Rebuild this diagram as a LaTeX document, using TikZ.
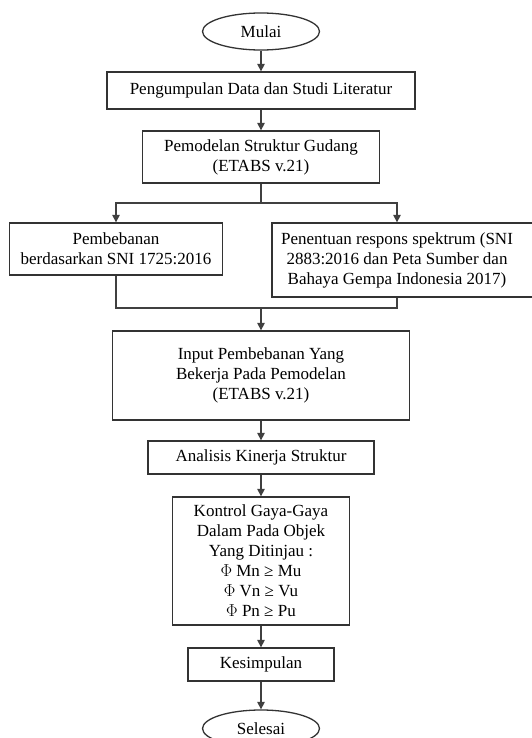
\documentclass[tikz,border=0pt]{standalone}
\usepackage{fontspec}
\setmainfont{Liberation Serif}
\usetikzlibrary{shapes.geometric,arrows.meta,calc}
\begin{document}
\begin{tikzpicture}[x=1pt,y=-1pt,
  every node/.style={font=\fontsize{17}{20}\selectfont, inner sep=0pt, align=center},
  procbox/.style={draw=black!80, line width=1.3pt, rectangle},
  term/.style={draw=black!80, line width=1.3pt, ellipse},
  line/.style={draw=black!75, line width=1.2pt},
  arr/.style={line, -{Triangle[width=7.5pt,length=7.5pt]}}]
\useasboundingbox (0,0) rectangle (532,738);
\begin{scope}
\clip (0,0) rectangle (532,738);
\node[term, minimum width=117pt, minimum height=37pt] (mulai) at (261,31.5) {Mulai};
\node[procbox, minimum width=308pt, minimum height=37pt] (b1) at (261,90.5) {Pengumpulan Data dan Studi Literatur};
\node[procbox, minimum width=237pt, minimum height=52pt] (b2) at (261,157) {Pemodelan Struktur Gudang\\(ETABS v.21)};
\node[procbox, minimum width=213pt, minimum height=52pt] (left) at (116,249) {Pembebanan\\berdasarkan SNI 1725:2016};
\node[procbox, minimum width=264pt, minimum height=74pt] (right) at (404,260) {};
\node (rtext) at (397,260) {Penentuan respons spektrum (SNI\\2883:2016 dan Peta Sumber dan\\Bahaya Gempa Indonesia 2017)};
\node[procbox, minimum width=297pt, minimum height=89pt] (input) at (261,375.5) {Input Pembebanan Yang\\Bekerja Pada Pemodelan\\(ETABS v.21)};
\node[procbox, minimum width=226pt, minimum height=33pt] (anal) at (261,457.5) {Analisis Kinerja Struktur};
\node[procbox, minimum width=177pt, minimum height=128pt] (kontrol) at (261,561) {Kontrol Gaya-Gaya\\Dalam Pada Objek\\Yang Ditinjau :\\$\Phi$ Mn ≥ Mu\\$\Phi$ Vn ≥ Vu\\$\Phi$ Pn ≥ Pu};
\node[procbox, minimum width=146pt, minimum height=33pt] (kes) at (261,664.5) {Kesimpulan};
\node[term, minimum width=117pt, minimum height=37pt] (selesai) at (261,728.5) {Selesai};

\coordinate (split) at (261,203);
\coordinate (merge) at (261,308);
\draw[arr] (mulai.south) -- (b1.north);
\draw[arr] (b1.south) -- (b2.north);
\draw[line] (b2.south) -- (split);
\draw[arr] (split) -| (left.north);
\draw[arr] (split) -| ($(right.north)+(-7,0)$);
\draw[line] (left.south) |- (merge);
\draw[line] ($(right.south)+(-7,0)$) |- (merge);
\draw[arr] (merge) -- (input.north);
\draw[arr] (input.south) -- (anal.north);
\draw[arr] (anal.south) -- (kontrol.north);
\draw[arr] (kontrol.south) -- (kes.north);
\draw[arr] (kes.south) -- (selesai.north);
\end{scope}
\end{tikzpicture}
\end{document}
